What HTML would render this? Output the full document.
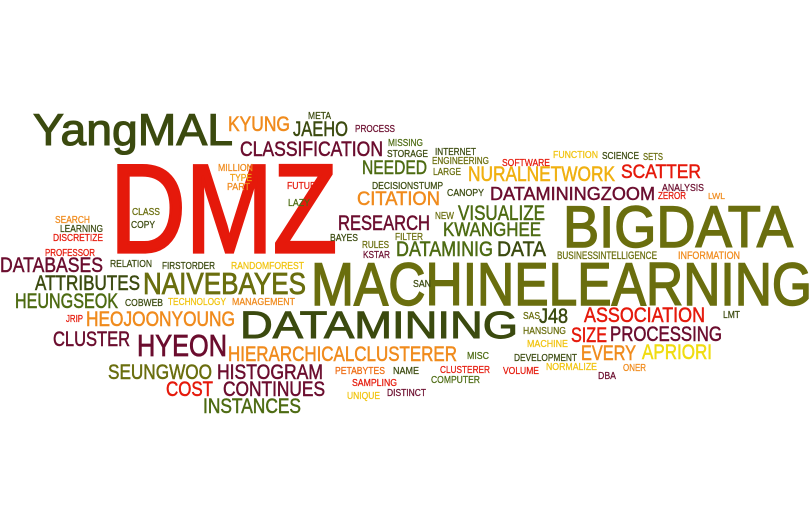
<!DOCTYPE html>
<html><head><meta charset="utf-8">
<style>
html,body{margin:0;padding:0;background:#fff;}
#cloud{position:relative;width:812px;height:528px;overflow:hidden;background:#fff;}
#cloud span{position:absolute;white-space:nowrap;line-height:1;font-family:"Liberation Sans",sans-serif;font-weight:normal;transform-origin:0 0;}
</style></head>
<body>
<div id="cloud"></div>
<script>
var DG="#3b4a0f",OL="#6a6e0e",GR="#4d6b12",MA="#6b0d2e",RE="#e5190b",OR="#f08b1d",YE="#f1c40f",YB="#f0dc10";
var words=[
["DMZ",110,162,227,90,RE],
["YangMAL",33,115,200,32,DG],
["KYUNG",228,118,62,15,OR],
["JAEHO",293,123,55,15,DG],
["META",308,113,23,7,DG],
["PROCESS",355,126,40,7,MA],
["CLASSIFICATION",240,143,143,15,MA],
["MILLION",218,165,35,7,OR],
["TYPE",230,175,22,7,"#f0a010"],
["PART",227,184,23,7,OR],
["FUTURE",287,183,35,7,RE],
["LAZY",288,200,22,7,GR],
["CLASS",132,209,28,7,OL],
["COPY",131,222,24,7,DG],
["SEARCH",55,217,35,7,OR],
["LEARNING",60,226,43,7,DG],
["DISCRETIZE",53,235,50,7,RE],
["PROFESSOR",45,250,50,7,RE],
["DATABASES",0,259,103,15,MA],
["RELATION",110,261,42,7,DG],
["FIRSTORDER",162,263,53,7,DG],
["RANDOMFOREST",231,263,73,7,YE],
["ATTRIBUTES",35,277,105,15,DG],
["NAIVEBAYES",143,273,163,22,OL],
["HEUNGSEOK",15,295,103,15,GR],
["COBWEB",125,300,38,7,DG],
["TECHNOLOGY",168,299,58,7,YE],
["MANAGEMENT",232,299,63,7,OR],
["JRIP",66,316,17,7,RE],
["HEOJOONYOUNG",86,313,149,15,OR],
["CLUSTER",53,333,77,15,MA],
["HYEON",137,335,90,22,MA],
["HIERARCHICALCLUSTERER",228,348,229,15,OR],
["SEUNGWOO",108,366,104,15,OL],
["HISTOGRAM",217,366,106,15,MA],
["COST",166,383,47,15,RE],
["CONTINUES",223,383,102,15,MA],
["INSTANCES",203,400,98,15,GR],
["PETABYTES",335,368,50,7,"#ee6a10"],
["SAMPLING",352,380,45,7,RE],
["UNIQUE",347,393,33,7,YE],
["DISTINCT",387,390,39,7,MA],
["NAME",393,368,26,7,DG],
["MISSING",388,140,35,7,GR],
["STORAGE",387,151,41,7,DG],
["NEEDED",362,162,65,14,GR],
["INTERNET",435,149,41,7,DG],
["ENGINEERING",432,158,57,7,OL],
["LARGE",433,169,28,7,OL],
["DECISIONSTUMP",372,183,71,7,DG],
["CITATION",357,193,83,14,OR],
["CANOPY",447,190,37,7,DG],
["FUNCTION",553,152,45,7,YE],
["SCIENCE",602,153,37,7,DG],
["SETS",643,154,20,7,OL],
["SOFTWARE",502,160,48,7,RE],
["NURALNETWORK",468,168,147,15,"#f0b010"],
["SCATTER",621,166,80,14,RE],
["DATAMININGZOOM",490,187,165,13,MA],
["ANALYSIS",662,185,42,7,MA],
["ZEROR",658,193,28,7,RE],
["LWL",708,193,17,6,OR],
["RESEARCH",338,217,92,15,MA],
["NEW",435,213,19,7,OL],
["VISUALIZE",458,207,87,15,GR],
["KWANGHEE",443,224,98,14,GR],
["BIGDATA",563,207,230,42,OL],
["BAYES",330,235,28,7,DG],
["FILTER",395,234,28,7,OL],
["RULES",362,242,27,7,OL],
["KSTAR",363,252,27,7,MA],
["DATAMINIG",396,243,97,15,GR],
["DATA",497,243,49,15,DG],
["BUSINESSINTELLIGENCE",557,252,100,8,OL],
["INFORMATION",678,252,62,8,OR],
["MACHINELEARNING",311,263,501,43,OL],
["SAN",413,281,18,7,DG],
["DATAMINING",240,312,278,27,DG],
["SAS",523,313,17,7,OL],
["J48",539,310,29,15,DG],
["ASSOCIATION",584,309,121,15,RE],
["LMT",723,312,17,7,DG],
["HANSUNG",523,328,43,7,OL],
["SIZE",571,329,36,15,RE],
["PROCESSING",610,328,112,15,MA],
["MACHINE",527,341,41,7,YE],
["MISC",467,353,22,7,GR],
["DEVELOPMENT",514,355,63,7,DG],
["EVERY",581,347,55,15,OR],
["APRIORI",642,346,70,15,YB],
["CLUSTERER",440,367,50,7,RE],
["COMPUTER",431,377,49,7,GR],
["VOLUME",503,368,36,7,RE],
["NORMALIZE",546,364,51,7,YE],
["ONER",623,365,23,7,OR],
["DBA",598,373,18,7,MA]
];
var cloud=document.getElementById('cloud');
words.forEach(function(w){
  var s=document.createElement('span');
  
  
  s.textContent=w[0];
  var fs=w[4]/0.716;
  s.style.fontSize=fs+'px';
  s.style.color=w[5];
  s.style.webkitTextStroke=(fs*0.025)+'px '+w[5];
  s.style.left=w[1]+'px';
  s.style.top=(w[2]-0.1305*fs)+'px';
  cloud.appendChild(s);
  var bw=s.getBoundingClientRect().width;
  if(bw>0){s.style.transform='scaleX('+(w[3]/bw)+')';}
});
</script>
</body></html>
